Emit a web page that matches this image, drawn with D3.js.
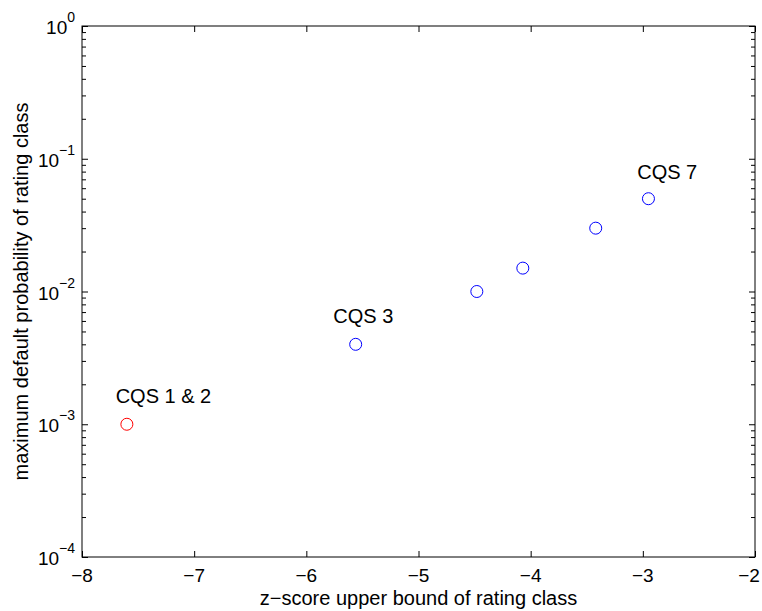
<!DOCTYPE html>
<html>
<head>
<meta charset="utf-8">
<script src="https://cdn.jsdelivr.net/npm/d3@7"></script>
<style>
  body { margin: 0; background: #fff; }
  text { font-family: "Liberation Sans", Arial, Helvetica, sans-serif; fill: #000; }
</style>
</head>
<body>
<div id="chart"></div>
<script>
// data
var zScores = [-7.60, -5.56, -4.48, -4.07, -3.42, -2.95];
var maxPD = [0.001, 0.004, 0.01, 0.015, 0.03, 0.05];

var labelText = ["CQS 1 & 2", "CQS 3", "CQS 7"];
var labelX = [-7.70, -5.76, -3.05];
var labelY = [0.00144, 0.00578, 0.0703];

var xTicks = [-8, -7, -6, -5, -4, -3, -2];
var yExponents = [-4, -3, -2, -1, 0];

var svgWidth = 762;
var svgHeight = 611;

var margin = { top: 26, right: 7, bottom: 54, left: 82 };
var width = svgWidth - margin.left - margin.right;
var height = svgHeight - margin.top - margin.bottom;

var svg = d3.select("#chart")
  .append("svg")
  .attr("width", svgWidth)
  .attr("height", svgHeight);

var chartGroup = svg.append("g")
  .attr("transform", `translate(${margin.left}, ${margin.top})`);

var xScale = d3.scaleLinear()
  .domain([-8, -2])
  .range([0, width]);

var yScale = d3.scaleLog()
  .domain([1e-4, 1])
  .range([height, 0]);

// minor log ticks 2..9 in each decade
var minorTicks = [];
for (var e = -4; e < 0; e++) {
  for (var m = 2; m <= 9; m++) minorTicks.push(m * Math.pow(10, e));
}
var majorTicks = yExponents.map(e => Math.pow(10, e));

function styleAxis(g) {
  g.select(".domain").remove();
  g.selectAll("line").attr("stroke", "#000").attr("stroke-width", 1);
  g.selectAll("text").remove();
}

// bottom / top x axes
chartGroup.append("g")
  .attr("transform", `translate(0, ${height})`)
  .call(d3.axisBottom(xScale).tickValues(xTicks).tickSize(-6))
  .call(styleAxis);
chartGroup.append("g")
  .call(d3.axisTop(xScale).tickValues(xTicks).tickSize(-6))
  .call(styleAxis);

// left / right y axes, major and minor ticks
chartGroup.append("g")
  .call(d3.axisLeft(yScale).tickValues(majorTicks).tickSize(-6))
  .call(styleAxis);
chartGroup.append("g")
  .call(d3.axisLeft(yScale).tickValues(minorTicks).tickSize(-4))
  .call(styleAxis);
chartGroup.append("g")
  .attr("transform", `translate(${width}, 0)`)
  .call(d3.axisRight(yScale).tickValues(majorTicks).tickSize(-6))
  .call(styleAxis);
chartGroup.append("g")
  .attr("transform", `translate(${width}, 0)`)
  .call(d3.axisRight(yScale).tickValues(minorTicks).tickSize(-4))
  .call(styleAxis);

// box
chartGroup.append("rect")
  .attr("x", 0)
  .attr("y", 0)
  .attr("width", width)
  .attr("height", height)
  .attr("fill", "none")
  .attr("stroke", "#000")
  .attr("stroke-width", 1);

// x tick labels (last one pushed in so it stays on the page)
chartGroup.selectAll(".xlabel")
  .data(xTicks)
  .enter()
  .append("text")
  .attr("class", "xlabel")
  .attr("x", d => Math.min(xScale(d), width - 6))
  .attr("y", height + 25)
  .attr("text-anchor", "middle")
  .attr("font-size", "19px")
  .text(d => d < 0 ? "\u2212" + Math.abs(d) : d);

// y tick labels as 10^e
var yLabels = chartGroup.selectAll(".ylabel")
  .data(yExponents)
  .enter()
  .append("text")
  .attr("class", "ylabel")
  .attr("text-anchor", "end")
  .attr("x", -7)
  .attr("y", d => yScale(Math.pow(10, d)) + 8)
  .attr("font-size", "19px");
yLabels.append("tspan").text("10");
yLabels.append("tspan")
  .attr("dy", -12)
  .attr("font-size", "14px")
  .text(d => d < 0 ? "\u2212" + Math.abs(d) : d);

// points
chartGroup.selectAll("circle")
  .data(zScores)
  .enter()
  .append("circle")
  .attr("cx", d => xScale(d))
  .attr("cy", (d, i) => yScale(maxPD[i]))
  .attr("r", 6)
  .attr("fill", "none")
  .attr("stroke", (d, i) => i === 0 ? "#ff0000" : "#0000ff")
  .attr("stroke-width", 1);

// annotations
chartGroup.selectAll(".note")
  .data(labelText)
  .enter()
  .append("text")
  .attr("class", "note")
  .attr("x", (d, i) => xScale(labelX[i]))
  .attr("y", (d, i) => yScale(labelY[i]))
  .attr("font-size", "20px")
  .text(d => d);

// axis titles
chartGroup.append("text")
  .attr("transform", "rotate(-90)")
  .attr("x", 0 - height / 2)
  .attr("y", 28 - margin.left)
  .attr("text-anchor", "middle")
  .attr("font-size", "20px")
  .text("maximum default probability of rating class");

chartGroup.append("text")
  .attr("x", width / 2)
  .attr("y", height + 48)
  .attr("text-anchor", "middle")
  .attr("font-size", "20px")
  .text("z\u2212score upper bound of rating class");
</script>
</body>
</html>
